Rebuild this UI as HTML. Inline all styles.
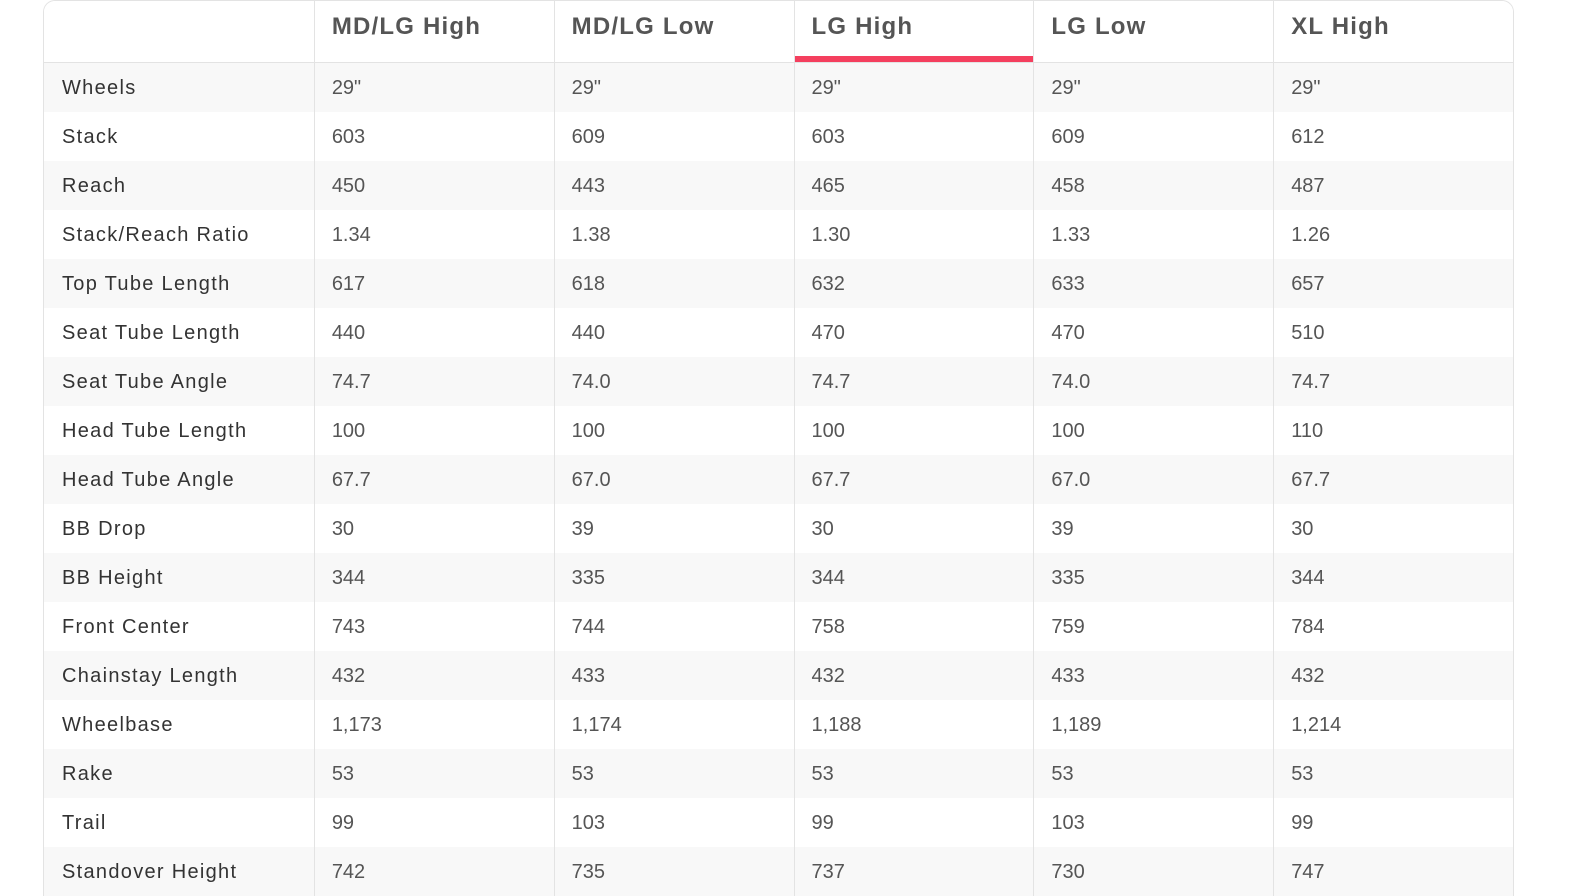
<!DOCTYPE html>
<html><head><meta charset="utf-8"><style>
html,body{margin:0;padding:0;background:#fff;width:1586px;height:893px;overflow:hidden;font-family:"Liberation Sans",sans-serif;}
.t{position:absolute;left:43px;top:0;width:1469px;border:1px solid #e3e3e3;border-bottom:none;border-radius:12px 12px 0 0;overflow:hidden;}
.r{display:flex;height:49px;}
.r.h{height:62px;border-bottom:1px solid #e3e3e3;box-sizing:border-box;}
.r:nth-child(even){background:#f8f8f8;}
.r.h{background:#fff;}
.c{width:240px;box-sizing:border-box;border-left:1px solid #e3e3e3;padding-left:17px;line-height:51px;font-size:20px;color:#555;position:relative;}
.c:first-child{width:270px;border-left:none;color:#333;padding-left:18px;letter-spacing:1.3px;}
.h .c{font-weight:bold;font-size:24px;line-height:52px;color:#555;letter-spacing:1.2px;}
.red:after{content:"";position:absolute;left:0;right:0;bottom:0;height:6px;background:#f43f5e;}
</style></head><body>
<div class="t">
<div class="r h"><div class="c"></div><div class="c">MD/LG High</div><div class="c">MD/LG Low</div><div class="c red">LG High</div><div class="c">LG Low</div><div class="c">XL High</div></div>
<div class="r"><div class="c">Wheels</div><div class="c">29"</div><div class="c">29"</div><div class="c">29"</div><div class="c">29"</div><div class="c">29"</div></div>
<div class="r"><div class="c">Stack</div><div class="c">603</div><div class="c">609</div><div class="c">603</div><div class="c">609</div><div class="c">612</div></div>
<div class="r"><div class="c">Reach</div><div class="c">450</div><div class="c">443</div><div class="c">465</div><div class="c">458</div><div class="c">487</div></div>
<div class="r"><div class="c">Stack/Reach Ratio</div><div class="c">1.34</div><div class="c">1.38</div><div class="c">1.30</div><div class="c">1.33</div><div class="c">1.26</div></div>
<div class="r"><div class="c">Top Tube Length</div><div class="c">617</div><div class="c">618</div><div class="c">632</div><div class="c">633</div><div class="c">657</div></div>
<div class="r"><div class="c">Seat Tube Length</div><div class="c">440</div><div class="c">440</div><div class="c">470</div><div class="c">470</div><div class="c">510</div></div>
<div class="r"><div class="c">Seat Tube Angle</div><div class="c">74.7</div><div class="c">74.0</div><div class="c">74.7</div><div class="c">74.0</div><div class="c">74.7</div></div>
<div class="r"><div class="c">Head Tube Length</div><div class="c">100</div><div class="c">100</div><div class="c">100</div><div class="c">100</div><div class="c">110</div></div>
<div class="r"><div class="c">Head Tube Angle</div><div class="c">67.7</div><div class="c">67.0</div><div class="c">67.7</div><div class="c">67.0</div><div class="c">67.7</div></div>
<div class="r"><div class="c">BB Drop</div><div class="c">30</div><div class="c">39</div><div class="c">30</div><div class="c">39</div><div class="c">30</div></div>
<div class="r"><div class="c">BB Height</div><div class="c">344</div><div class="c">335</div><div class="c">344</div><div class="c">335</div><div class="c">344</div></div>
<div class="r"><div class="c">Front Center</div><div class="c">743</div><div class="c">744</div><div class="c">758</div><div class="c">759</div><div class="c">784</div></div>
<div class="r"><div class="c">Chainstay Length</div><div class="c">432</div><div class="c">433</div><div class="c">432</div><div class="c">433</div><div class="c">432</div></div>
<div class="r"><div class="c">Wheelbase</div><div class="c">1,173</div><div class="c">1,174</div><div class="c">1,188</div><div class="c">1,189</div><div class="c">1,214</div></div>
<div class="r"><div class="c">Rake</div><div class="c">53</div><div class="c">53</div><div class="c">53</div><div class="c">53</div><div class="c">53</div></div>
<div class="r"><div class="c">Trail</div><div class="c">99</div><div class="c">103</div><div class="c">99</div><div class="c">103</div><div class="c">99</div></div>
<div class="r"><div class="c">Standover Height</div><div class="c">742</div><div class="c">735</div><div class="c">737</div><div class="c">730</div><div class="c">747</div></div>
</div>
</body></html>
